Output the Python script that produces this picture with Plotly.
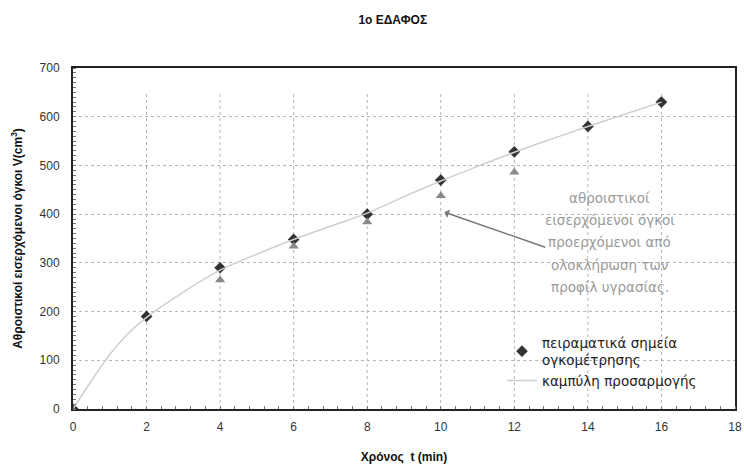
import plotly.graph_objects as go

# Experimental (volumetric) points
t_exp = [0, 2, 4, 6, 8, 10, 12, 14, 16]
v_exp = [0, 190, 290, 348, 400, 470, 528, 580, 630]

# Cumulative volumes from integration of moisture profiles
t_int = [4, 6, 8, 10, 12]
v_int = [265, 334, 384, 438, 486]

# Fitted curve
t_fit = [0, 0.5, 1, 1.5, 2, 3, 4, 5, 6, 7, 8, 9, 10, 11, 12, 13, 14, 15, 16]
v_fit = [0, 58, 112, 155, 188, 240, 285, 318, 348, 375, 402, 436, 468, 498, 527, 554, 580, 605, 630]

x_ticks = [0, 2, 4, 6, 8, 10, 12, 14, 16, 18]
y_ticks = [0, 100, 200, 300, 400, 500, 600, 700]

title_text = "1o ΕΔΑΦΟΣ"
x_title = "Χρόνος  t (min)"
y_title = "Αθροιστικοί εισερχόμενοι όγκοι V(cm<sup>3</sup>)"
legend_exp = "πειραματικά σημεία<br>ογκομέτρησης"
legend_fit = "καμπύλη προσαρμογής"
note_lines = ["αθροιστικοί", "εισερχόμενοι όγκοι", "προερχόμενοι από",
              "ολοκλήρωση των", "προφίλ υγρασίας."]

fig = go.Figure()

fig.add_trace(go.Scatter(
    x=t_exp, y=v_exp, mode="markers", name=legend_exp,
    marker=dict(symbol="diamond", size=9, color="#333333"),
))
fig.add_trace(go.Scatter(
    x=t_fit, y=v_fit, mode="lines", name=legend_fit,
    line=dict(color="#cfcfcf", width=1.5, shape="spline"),
))
fig.add_trace(go.Scatter(
    x=t_int, y=v_int, mode="markers", showlegend=False,
    marker=dict(symbol="triangle-up", size=9, color="#8a8a8a"),
))

# vertical dotted grid lines that stop below the top of the plot
for xv in x_ticks[1:-1]:
    fig.add_shape(type="line", xref="x", yref="y", x0=xv, x1=xv, y0=0, y1=650,
                  line=dict(color="#b5b5b5", width=1, dash="dot"), layer="below")

fig.add_annotation(
    x=10.1, y=404, ax=12.88, ay=331, xref="x", yref="y", axref="x", ayref="y",
    showarrow=True, arrowhead=1, arrowsize=1.0, arrowwidth=1.5, arrowcolor="#777777",
    text="",
)
# annotation text, one line each (reference spacing ~22 px = ~45 units)
note_y0 = 433
for i, line in enumerate(note_lines):
    fig.add_annotation(
        x=14.6, y=note_y0 - i * 45.5, xref="x", yref="y", text=line, showarrow=False,
        font=dict(family="DejaVu Sans", size=13.5, color="#9a9a9a"),
        xanchor="center", yanchor="middle",
    )

fig.update_layout(
    width=744, height=474,
    margin=dict(l=73, r=9, t=68, b=65),
    paper_bgcolor="white", plot_bgcolor="white",
    font=dict(family="Liberation Sans, Arial", size=12, color="#222222"),
    title=dict(text="<b>" + title_text + "</b>", x=0.483, xref="paper", y=0.958,
               yanchor="middle", xanchor="center",
               font=dict(size=12, color="#111111")),
    showlegend=True,
    legend=dict(x=0.648, y=0.24, xanchor="left", yanchor="top",
                bgcolor="rgba(0,0,0,0)", borderwidth=0,
                font=dict(family="DejaVu Sans", size=13.5, color="#222222"),
                tracegroupgap=0, itemwidth=30),
)

fig.update_xaxes(
    range=[0, 18], tickvals=x_ticks, ticktext=[str(v) for v in x_ticks],
    showgrid=False, zeroline=False, automargin=False,
    showline=True, linecolor="#222222", linewidth=2, mirror=True,
    ticks="", tickfont=dict(size=12, color="#333333"), ticklabelstandoff=6,
    ticklabeloverflow="allow",
    title=dict(text="<b>" + x_title + "</b>", font=dict(size=12, color="#111111"), standoff=19),
    minor=dict(ticks="inside", dtick=0.4, ticklen=3, tickcolor="#777777"),
)
fig.update_yaxes(
    range=[0, 700], tickvals=y_ticks, ticktext=[str(v) for v in y_ticks],
    showgrid=True, gridcolor="#b5b5b5", griddash="dot", gridwidth=1,
    zeroline=False, automargin=False,
    showline=True, linecolor="#222222", linewidth=2, mirror=True,
    ticks="", tickfont=dict(size=12, color="#333333"), ticklabelstandoff=9,
    ticklabeloverflow="allow",
    title=dict(text="<b>" + y_title + "</b>", font=dict(size=12, color="#111111"), standoff=14),
    minor=dict(ticks="inside", dtick=10, ticklen=3, tickcolor="#777777"),
)

fig.write_html("out.html", config={"displayModeBar": False},
               post_script="document.body.style.margin='0';")
